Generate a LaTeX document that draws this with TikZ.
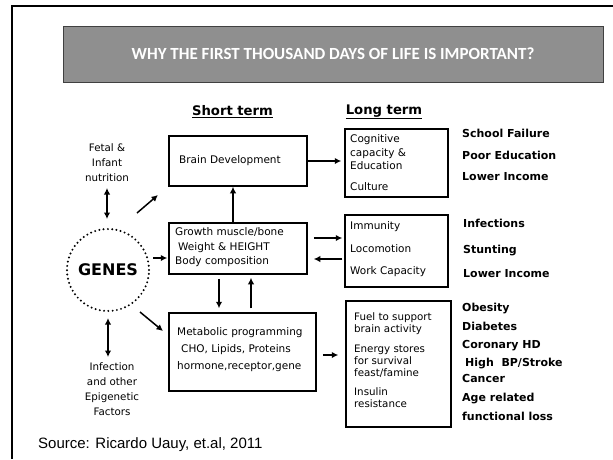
\documentclass[tikz,border=0pt]{standalone}
\usepackage{fontspec}
\setmainfont{DejaVu Sans}
\newfontfamily\carl{Carlito}
\newfontfamily\arialf{Liberation Sans}
\usetikzlibrary{arrows.meta,calc}
\definecolor{titlegray}{RGB}{143,143,143}
\definecolor{titleedge}{RGB}{64,64,64}
\begin{document}
\begin{tikzpicture}[x=1pt,y=-1pt,
  box/.style={draw=black, line width=1.5pt, inner sep=0pt, rectangle},
  txt/.style={font=\fontsize{10.5}{#1}\selectfont, align=left, anchor=west, inner sep=0pt},
  res/.style={font=\bfseries\fontsize{11}{13}\selectfont, anchor=west, inner sep=0pt, text height=8pt, text depth=2pt},
  hdr/.style={font=\bfseries\fontsize{13.2}{16}\selectfont, inner sep=0pt},
  side/.style={font=\fontsize{10.3}{15}\selectfont, align=center, inner sep=0pt},
  arr/.style={line width=1.5pt, -{Latex[length=6.5pt,width=6.5pt]}},
  darr/.style={line width=1.5pt, {Latex[length=6.5pt,width=6.5pt]}-{Latex[length=6.5pt,width=6.5pt]}}
]
\useasboundingbox (0,0) rectangle (613,459);
% frame
\draw[line width=2.5pt] (613,6) -- (12,6) -- (12,459);
% title
\node[draw=titleedge, fill=titlegray, line width=1pt, minimum width=540pt, minimum height=56pt, inner sep=0pt,
  text=white, font=\carl\bfseries\fontsize{17}{20}\selectfont] (title) at (333,54) {WHY THE FIRST THOUSAND DAYS OF LIFE IS IMPORTANT?};
% headers
\node[hdr] (short) at (232.5,112) {\underline{Short term}};
\node[hdr] (long) at (384,112) {\underline{Long term}};
% short-term boxes
\node[box, minimum width=138pt, minimum height=50pt] (brain) at (238,161) {};
\node[txt=13] (brainT) at (179,161) {Brain Development};
\node[box, minimum width=138pt, minimum height=51pt] (growth) at (238,248.5) {};
\node[txt=14.5] (growthT) at (175,247.5) {Growth muscle/bone\\\hspace{3pt}Weight \& HEIGHT\\Body composition};
\node[box, minimum width=147pt, minimum height=78pt] (met) at (242.5,352) {};
\node[txt=17] (metT) at (177,350) {Metabolic programming\\\hspace{4pt}CHO, Lipids, Proteins\\hormone,receptor,gene};
% long-term boxes
\node[box, minimum width=103pt, minimum height=68pt] (cog) at (396.5,163) {};
\node[txt=13.5] (cogT) at (350,163) {Cognitive\\capacity \&\\Education\\[7.5pt]Culture};
\node[box, minimum width=103pt, minimum height=72pt] (imm) at (396.5,251) {};
\node[txt=22.5] (immT) at (350,249.5) {Immunity\\Locomotion\\Work Capacity};
\node[box, minimum width=105pt, minimum height=126pt] (fuel) at (398.5,364) {};
\node[txt=11.8, font=\fontsize{10.3}{11.8}\selectfont] (fuelT) at (354,360.5) {Fuel to support\\brain activity\\[8pt]Energy stores\\for survival\\feast/famine\\[8pt]Insulin\\resistance};
% genes
\node[circle, draw, line width=2.2pt, dash pattern=on 0pt off 4.3pt, line cap=round, minimum size=82pt, inner sep=0pt,
  font=\bfseries\fontsize{16}{19}\selectfont] (genes) at (108,270) {GENES};
\node[side] (fetal) at (107,163) {Fetal \&\\Infant\\nutrition};
\node[side] (infect) at (112,389.5) {Infection\\and other\\Epigenetic\\Factors};
% results
\node[res] (r1) at (462,134) {School Failure};
\node[res] (r2) at (462,156) {Poor Education};
\node[res] (r3) at (462,177) {Lower Income};
\node[res] (r4) at (463,224) {Infections};
\node[res] (r5) at (463,250) {Stunting};
\node[res] (r6) at (463,274) {Lower Income};
\node[res] (r7) at (462,308) {Obesity};
\node[res] (r8) at (462,327) {Diabetes};
\node[res] (r9) at (462,345) {Coronary HD};
\node[res] (r10) at (465,363) {High\ \ BP/Stroke};
\node[res] (r11) at (462,379) {Cancer};
\node[res] (r12) at (462,398) {Age related};
\node[res] (r13) at (462,417) {functional loss};
% source
\node[font=\arialf\fontsize{15}{18}\selectfont, anchor=west, inner sep=0pt] (src) at (38,445) {Source: Ricardo Uauy, et.al, 2011};
% connectors
\draw[darr] (fetal.south |- 0,188) -- (fetal.south |- 0,219);
\draw[darr, shorten <=6pt] (genes.south) -- (genes.south |- 0,357);
\coordinate (gb1) at (137,213);
\coordinate (gb2) at (158,195);
\draw[arr] (gb1) -- (gb2);
\coordinate (gg) at (153,258);
\draw[arr, shorten >=1pt] (gg) -- (gg -| growth.west);
\coordinate (gm1) at (140,312);
\coordinate (gm2) at (163,331);
\draw[arr] (gm1) -- (gm2);
\draw[arr] ([xshift=-5pt]growth.north) -- ([xshift=-5pt]brain.south);
\draw[arr, shorten <=4pt, shorten >=4pt] ([xshift=-19pt]growth.south) -- ([xshift=-23.5pt]met.north);
\draw[arr, shorten <=4pt, shorten >=3pt] ([xshift=8.5pt]met.north) -- ([xshift=13pt]growth.south);
\draw[arr, shorten >=3pt] (brain.east) -- (brain.east -| cog.west);
\draw[arr, shorten <=6pt, shorten >=2pt] ([yshift=10.5pt]growth.east) -- ([yshift=10.5pt]growth.east -| imm.west);
\draw[arr, shorten <=2pt, shorten >=6pt] ([yshift=-10.5pt]growth.east -| imm.west) -- ([yshift=-10.5pt]growth.east);
\draw[arr, shorten <=6pt, shorten >=7pt] ([yshift=-3pt]met.east) -- ([yshift=-3pt]met.east -| fuel.west);
\end{tikzpicture}
\end{document}
